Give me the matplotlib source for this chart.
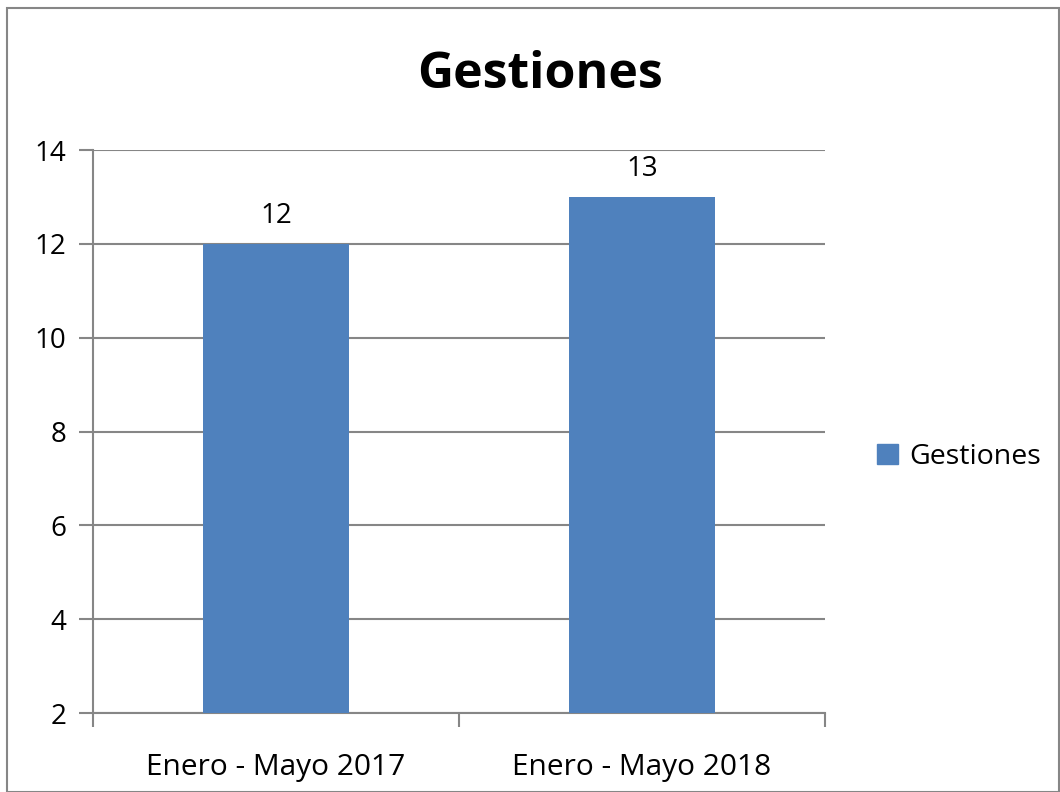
import matplotlib
matplotlib.use("Agg")
import matplotlib.pyplot as plt
from matplotlib.patches import Rectangle, Patch

categories = ["Enero - Mayo 2017", "Enero - Mayo 2018"]
values = [12, 13]
series_name = "Gestiones"
title = "Gestiones"
yticks = [2, 4, 6, 8, 10, 12, 14]

W, H = 1060, 792
fig = plt.figure(figsize=(W / 100, H / 100), dpi=100)
plt.rcParams['font.family'] = ['Open Sans', 'DejaVu Sans']
FS = 20

# outer border
fig.patches.append(Rectangle((7 / W, 0), (W - 7) / W - 1 / W, (H - 8) / H, transform=fig.transFigure,
                             fill=False, edgecolor='#868686', linewidth=1.5))

ax = fig.add_axes([93 / W, (H - 713) / H, (825 - 93) / W, (713 - 150) / H])
x = range(len(categories))
bars = ax.bar(x, [v - 2 for v in values], bottom=2, width=0.4, color='#4F81BD', zorder=3)
ax.set_xlim(-0.5, len(categories) - 0.5)
ax.set_ylim(2, 14)
ax.set_yticks(yticks)
ax.set_yticklabels([str(t) for t in yticks], fontsize=FS)
ax.yaxis.grid(True, color='#868686', linewidth=1.5, zorder=0)
ax.set_axisbelow(True)
for s in ['top', 'right']:
    ax.spines[s].set_visible(False)
for s in ['left', 'bottom']:
    ax.spines[s].set_color('#868686')
    ax.spines[s].set_linewidth(1.5)
ax.tick_params(axis='y', length=10, width=1.5, color='#868686', pad=9)
ax.set_xticks([-0.5, 0.5, 1.5], minor=False)
ax.set_xticklabels([])
ax.tick_params(axis='x', which='major', length=10, width=1.5, color='#868686')
ax.set_xticks(list(x), minor=True)
ax.set_xticklabels(categories, minor=True, fontsize=21.5)
ax.tick_params(axis='x', which='minor', length=0, pad=29)

for i, v in enumerate(values):
    ax.text(i, v + 0.3, str(v), ha='center', va='bottom', fontsize=FS)

fig.text(540 / W, 1 - 75 / H, title, ha='center', va='center', fontsize=36, fontweight='bold')

fig.legend(handles=[Patch(color='#4F81BD', label=series_name)], loc='center left',
           bbox_to_anchor=(851 / W, 1 - 457 / H), frameon=False, fontsize=20.5,
           handlelength=0.75, handleheight=0.75, handletextpad=0.4)

fig.savefig("out.png", dpi=100)
